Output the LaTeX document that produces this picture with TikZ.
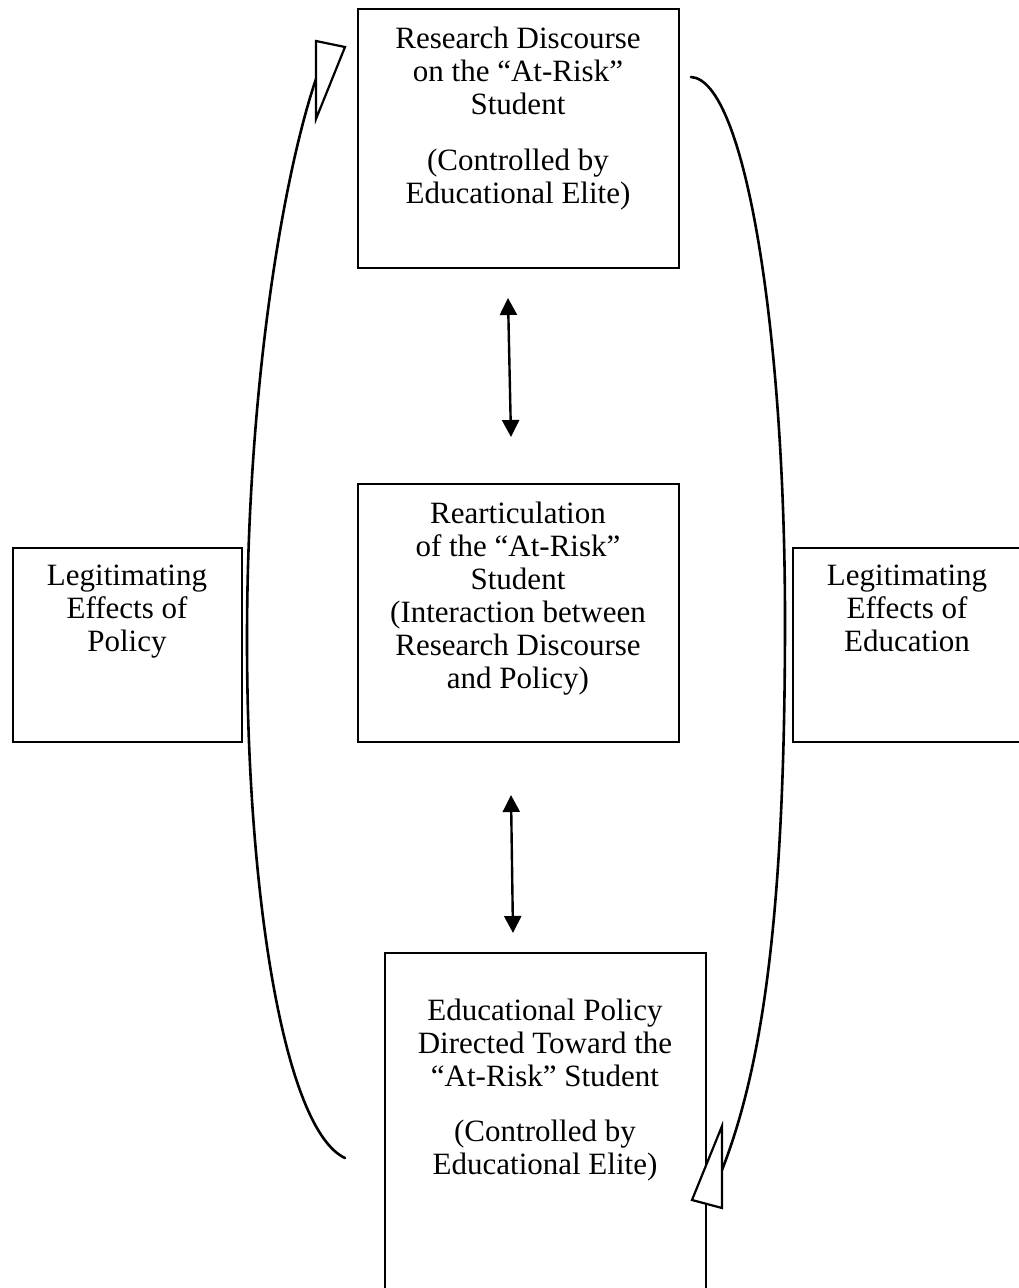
\documentclass[tikz,border=0pt]{standalone}
\usepackage{fontspec}
\setmainfont{Liberation Serif}
\usetikzlibrary{arrows.meta}
\begin{document}
\begin{tikzpicture}[x=1pt,y=-1pt,
  boxnode/.style={draw, line width=2.2pt, inner sep=0pt},
  txt/.style={align=center, inner sep=0pt, anchor=north, font=\fontsize{31}{33}\selectfont},
  loopline/.style={line width=2.6pt, line cap=round},
  opentip/.style={line width=2.2pt, line join=miter, fill=white},
  dbl/.style={line width=2.4pt, {Triangle[width=17pt,length=17pt]}-{Triangle[width=17pt,length=17pt]}}]
\useasboundingbox (0,0) rectangle (1019,1288);
% boxes
\node[boxnode, minimum width=321pt, minimum height=259pt] (topbox) at (518.5,138.5) {};
\node[boxnode, minimum width=321pt, minimum height=258pt] (midbox) at (518.5,613) {};
\node[boxnode, minimum width=229pt, minimum height=194pt] (leftbox) at (127.5,645) {};
\node[boxnode, minimum width=228pt, minimum height=194pt] (rightbox) at (907,645) {};
\node[boxnode, minimum width=321pt, minimum height=360pt] (botbox) at (545.5,1133) {};
% texts
\node[txt] (toptext) at (518,27) {Research Discourse\\on the “At-Risk”\\Student\\[23pt](Controlled by\\Educational Elite)};
\node[txt] (midtext) at (518,502) {Rearticulation\\of the “At-Risk”\\Student\\(Interaction between\\Research Discourse\\and Policy)};
\node[txt] (lefttext) at (127,565) {Legitimating\\Effects of\\Policy};
\node[txt] (righttext) at (907,565) {Legitimating\\Effects of\\Education};
\node[txt] (bottext) at (545,999) {Educational Policy\\Directed Toward the\\“At-Risk” Student\\[22pt](Controlled by\\Educational Elite)};
% loop curves
\coordinate (lstart) at (345,1158);
\coordinate (lend) at (316,79);
\coordinate (rstart) at (691,77);
\coordinate (rend) at (722,1170);
\draw[loopline] (lstart) .. controls (285,1130) and (247,900) .. (247,640) .. controls (247,380) and (285,170) .. (lend);
\draw[loopline] (rstart) .. controls (745,80) and (785,330) .. (785,620) .. controls (785,900) and (765,1060) .. (rend);
% open arrowheads
\coordinate (ta1) at (316,41);
\coordinate (ta2) at (345,47);
\coordinate (ta3) at (316,119);
\draw[opentip] (ta1) -- (ta2) -- (ta3) -- cycle;
\coordinate (tb1) at (722,1126);
\coordinate (tb2) at (722,1208);
\coordinate (tb3) at (692,1200);
\draw[opentip] (tb1) -- (tb2) -- (tb3) -- cycle;
% double arrows
\coordinate (a1s) at (508,298);
\coordinate (a1e) at (511,437);
\coordinate (a2s) at (511,795);
\coordinate (a2e) at (513,933);
\draw[dbl] (a1s) -- (a1e);
\draw[dbl] (a2s) -- (a2e);
\end{tikzpicture}
\end{document}
